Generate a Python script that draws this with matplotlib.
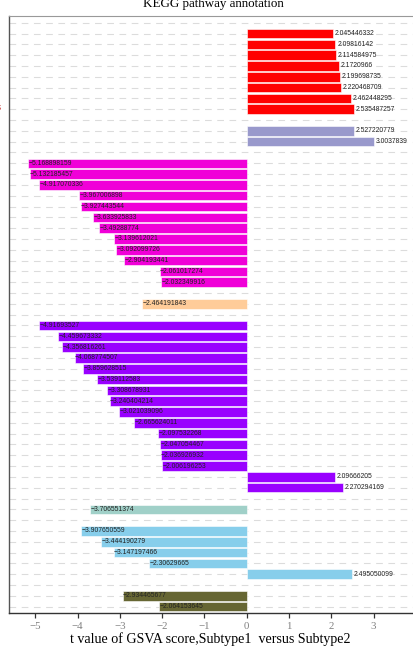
import matplotlib
matplotlib.use("Agg")
import matplotlib.pyplot as plt

# t values per pathway group, top to bottom
red_vals = [2.045446332, 2.09816142, 2.114584975, 2.1720966, 2.199698735,
            2.220468709, 2.462448295, 2.535487257]
lavender_vals = [2.527220779, 3.0037839]
magenta_vals = [-5.168898159, -5.132185457, -4.917070336, -3.967006898,
                -3.927443544, -3.633925833, -3.49288774, -3.139612021,
                -3.092099726, -2.904193441, -2.061017274, -2.032349916]
peach_vals = [-2.464191843]
purple_vals = [-4.91693527, -4.459673332, -4.356816261, -4.068774507,
               -3.859628515, -3.539112583, -3.308678931, -3.240404214,
               -3.021039096, -2.665624011, -2.097532268, -2.047054467,
               -2.036926932, -2.006196253, 2.09666205, 2.270294169]
teal_vals = [-3.706551374]
sky_vals = [-3.907650559, -3.444190279, -3.147197466, -2.30629665, 2.495050099]
olive_vals = [-2.934465677, -2.064153645]

groups = [
    (red_vals, "#FF0000"),
    (lavender_vals, "#9999CC"),
    (magenta_vals, "#F000D8"),
    (peach_vals, "#FFCC99"),
    (purple_vals, "#9900FF"),
    (teal_vals, "#A0D0C8"),
    (sky_vals, "#87CEEB"),
    (olive_vals, "#666633"),
]

xticks = [-5, -4, -3, -2, -1, 0, 1, 2, 3]

# build row positions: one empty row on top, one empty row between groups
rows, vals, cols = [], [], []
r = 1
for g, c in groups:
    for v in g:
        rows.append(r)
        vals.append(v)
        cols.append(c)
        r += 1
    r += 1
nrows = r - 1

fig = plt.figure(figsize=(4.14, 6.53), dpi=100)
W, H = 414, 653
xmin, xmax = -5.62, 4.2
px_per_unit = 42.3
ax_w = (xmax - xmin) * px_per_unit
ax = fig.add_axes([9 / W, (H - 612.7) / H, ax_w / W, (612.7 - 16) / H])

# dashed grid lines at every row
for i in range(0, nrows):
    ax.axhline(i, color="#DCDCDC", lw=0.8, ls=(0, (6, 5)), zorder=0)

ax.barh(rows, vals, height=0.88, color=cols, edgecolor="white",
        linewidth=0.4, zorder=2)

for y, v in zip(rows, vals):
    txt = f"{v:.10g}".replace("-", "\u2212")
    dx = 0.04 if v >= 0 else 0.01
    ax.text(v + dx, y, txt, ha="left", va="center", fontsize=4.9,
            family="Liberation Sans", color="#222222", zorder=3)

ax.set_xlim(xmin, xmax)
ax.set_ylim(nrows - 1 + 0.56, -0.62)
ax.set_yticks([])
ax.set_xticks(xticks)
ax.set_xticklabels([str(t).replace("-", "\u2212") for t in xticks],
                   family="Liberation Serif", fontsize=7.8, color="#808080")
ax.tick_params(axis="x", direction="out", length=3.5, width=0.9,
               color="#333333", pad=3)
ax.set_xlabel("t value of GSVA score,Subtype1  versus Subtype2",
              family="Liberation Serif", fontsize=10.1)
ax.xaxis.set_label_coords((210 - 9) / ax_w, -0.032)

ax.spines["left"].set_color("#555555")
ax.spines["left"].set_linewidth(1.0)
ax.spines["top"].set_color("#999999")
ax.spines["top"].set_linewidth(0.8)
ax.spines["bottom"].set_color("#333333")
ax.spines["bottom"].set_linewidth(1.0)
ax.spines["right"].set_visible(False)

fig.text(0.516, 1 - 7.5 / H, "KEGG pathway annotation", ha="center",
         va="baseline", family="Liberation Serif", fontsize=9.4)
# fragment of a label from the neighbouring (cropped) panel
fig.text(-0.004, 1 - 107 / H, "s", ha="center", va="center",
         fontsize=6, color="#CC4444")

fig.savefig("out.png", dpi=100)
